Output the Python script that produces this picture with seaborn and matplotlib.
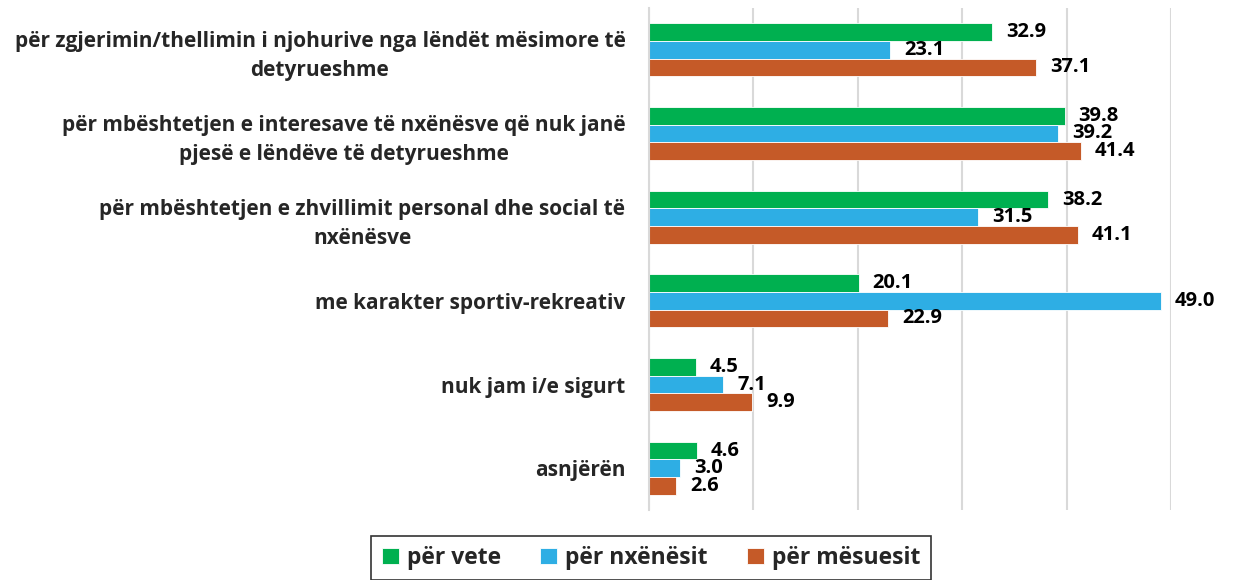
import pandas as pd
import matplotlib
matplotlib.use("Agg")
import matplotlib.pyplot as plt
import seaborn as sns

# ----- data -----
categories = [
    "për zgjerimin/thellimin i njohurive nga lëndët mësimore të\ndetyrueshme",
    "për mbështetjen e interesave të nxënësve që nuk janë\npjesë e lëndëve të detyrueshme",
    "për mbështetjen e zhvillimit personal dhe social të\nnxënësve",
    "me karakter sportiv-rekreativ",
    "nuk jam i/e sigurt",
    "asnjërën",
]
series = ["për vete", "për nxënësit", "për mësuesit"]
per_vete = [32.9, 39.8, 38.2, 20.1, 4.5, 4.6]
per_nxenesit = [23.1, 39.2, 31.5, 49.0, 7.1, 3.0]
per_mesuesit = [37.1, 41.4, 41.1, 22.9, 9.9, 2.6]
colors = ["#00b050", "#2eaee4", "#c55a28"]

df = pd.DataFrame({
    "kategoria": categories * 3,
    "vlera": per_vete + per_nxenesit + per_mesuesit,
    "grupi": [s for s in series for _ in categories],
})

sns.set_style("white")
plt.rcParams["font.family"] = ["Open Sans", "DejaVu Sans"]

fig = plt.figure(figsize=(12.58, 5.8), dpi=100)
ax = fig.add_axes([649 / 1258, 1 - 510 / 580, 522 / 1258, 502 / 580])

sns.barplot(data=df, y="kategoria", x="vlera", hue="grupi", orient="h",
            hue_order=series, palette=colors, saturation=1, width=0.63,
            edgecolor="white", linewidth=0.6, ax=ax)

# value labels
for cont in ax.containers:
    ax.bar_label(cont, fmt="%.1f", padding=10, fontsize=14.5,
                 fontweight="bold", color="black", clip_on=False)

ax.set_xlim(0, 50)
ax.set_xticks(range(0, 51, 10))
ax.set_xticklabels([])
ax.tick_params(axis="x", length=0)
ax.xaxis.grid(True, color="#d9d9d9", linewidth=1.5)
ax.set_axisbelow(True)
ax.set_xlabel("")
ax.set_ylabel("")
for s in ["top", "right", "bottom"]:
    ax.spines[s].set_visible(False)
ax.spines["left"].set_color("#d9d9d9")
ax.spines["left"].set_linewidth(1.5)

ax.tick_params(axis="y", length=0, pad=17)
for lbl in ax.get_yticklabels():
    lbl.set_fontsize(15)
    lbl.set_fontweight("bold")
    lbl.set_multialignment("center")
    lbl.set_linespacing(1.5)

# legend below the chart
handles, labels = ax.get_legend_handles_labels()
ax.get_legend().remove()
leg = fig.legend(handles, labels, loc="center", ncol=3,
                 bbox_to_anchor=(651 / 1258, 1 - 558 / 580),
                 frameon=True, fancybox=False, edgecolor="black",
                 prop={"weight": "bold", "size": 16.5},
                 handlelength=0.75, handleheight=0.75, handletextpad=0.35,
                 columnspacing=1.7, borderpad=0.45, borderaxespad=0)
leg.get_frame().set_linewidth(1.2)

fig.savefig("out.png", dpi=100)
